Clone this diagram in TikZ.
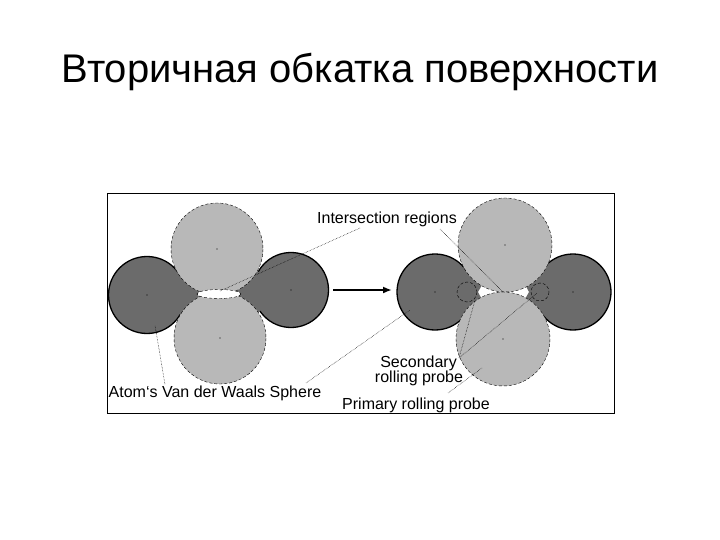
\documentclass[tikz,border=0pt]{standalone}
\usepackage{fontspec}
\setmainfont{Liberation Sans}
\usetikzlibrary{arrows.meta}
\begin{document}
\begin{tikzpicture}[x=1pt,y=-1pt,
  atom/.style={fill=black!58,draw=black,line width=1.3pt},
  lobe/.style={fill=black!58},
  probe/.style={fill=black!28,draw=black,densely dashed,line width=0.4pt},
  lead/.style={draw=black,densely dotted,line width=0.5pt},
  lbl/.style={font=\fontsize{16}{17}\selectfont,inner sep=0pt,align=center},
  dot/.style={circle,fill=black,inner sep=0pt,minimum size=1.2pt}]
\useasboundingbox (0,0) rectangle (720,540);
\node (title) at (360,72) {\fontsize{40}{44}\selectfont Вторичная обкатка поверхности};
\node[draw=black,line width=0.8pt,minimum width=507pt,minimum height=220pt,inner sep=0pt] (frame) at (360.5,303) {};
% ---- left diagram
\coordinate (la) at (147,295); \coordinate (ra) at (291,290);
\coordinate (tp) at (217,249); \coordinate (bp) at (220,338);
\draw[atom] (la) circle (38.5);
\draw[atom] (ra) circle (37.5);
\fill[lobe] (la) -- (tp) -- (219,294) -- (bp) -- cycle;
\fill[lobe] (ra) -- (tp) -- (219,294) -- (bp) -- cycle;
\draw[probe] (tp) circle (46);
\draw[probe] (bp) circle (46);
\filldraw[fill=white,draw=black,densely dashed,line width=0.4pt] (219,294) ellipse (22 and 4.5);
\foreach \p/\n in {la/d1,ra/d2,tp/d3,bp/d4} \node[dot] (\n) at (\p) {};
% arrow
\coordinate (a1) at (333,290); \coordinate (a2) at (392,290);
\draw[line width=2.2pt,-{Latex[length=9pt,width=7pt]}] (a1) -- (a2);
% ---- right diagram
\coordinate (la2) at (435,292); \coordinate (ra2) at (573,292);
\coordinate (tp2) at (505,245); \coordinate (bp2) at (503,339);
\draw[atom] (la2) circle (38);
\draw[atom] (ra2) circle (38);
\fill[lobe] (la2) -- (tp2) -- (478,292) -- (bp2) -- cycle;
\fill[lobe] (ra2) -- (tp2) -- (529,292) -- (bp2) -- cycle;
\fill[white] (478,292) -- (504,290) -- (529,292) -- (504,294) -- cycle;
\draw[probe] (tp2) circle (47);
\draw[probe] (bp2) circle (47);
\draw[black,densely dashed,line width=0.4pt] (467,292) circle (10);
\draw[black,densely dashed,line width=0.4pt] (540,292) circle (9);
\foreach \p/\n in {la2/e1,ra2/e2,tp2/e3,bp2/e4} \node[dot] (\n) at (\p) {};
\coordinate (s1) at (467,292); \coordinate (s2) at (537,293);
% ---- labels
\node[lbl] (ir) at (387,219) {Intersection regions};
\node[lbl,anchor=east] (sec) at (457,363) {Secondary};
\node[lbl] (rp) at (419,378) {rolling probe};
\node[lbl] (prp) at (416,405) {Primary rolling probe};
\node[lbl] (vdw) at (215,393) {Atom`s Van der Waals Sphere};
% ---- leaders
\coordinate (i1) at (220,291); \coordinate (i2) at (503,292);
\coordinate (ir1) at (360,228); \coordinate (ir2) at (440,229);
\draw[lead] (ir1) -- (i1);
\draw[lead] (ir2) -- (i2);
\coordinate (sl) at (459,358);
\draw[lead] (sl) -- (475,300);
\draw[lead] (sl) -- (s2);
\coordinate (pr) at (482,368); \coordinate (pr0) at (448,393);
\draw[lead] (pr0) -- (pr);
\coordinate (v1) at (155,325); \coordinate (v2) at (410,310);
\coordinate (v10) at (165,384); \coordinate (v20) at (306,383);
\draw[lead] (v10) -- (v1);
\draw[lead] (v20) -- (v2);
\end{tikzpicture}
\end{document}
